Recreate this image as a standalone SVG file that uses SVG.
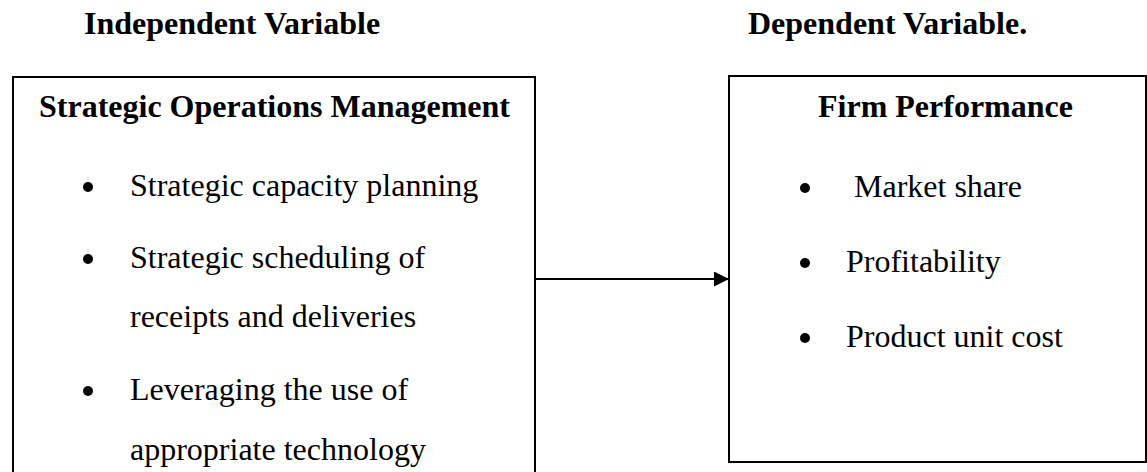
<svg xmlns="http://www.w3.org/2000/svg" width="1147" height="472" viewBox="0 0 1147 472">
  <style>
    text { font-family: "Liberation Serif", "Times New Roman", serif; font-size: 32px; fill: #000; }
    .b { font-weight: bold; }
    .box { fill: #fff; stroke: #000; stroke-width: 2; }
    .dot { fill: #000; }
    .link { stroke: #000; stroke-width: 2; fill: none; }
  </style>
  <defs>
    <marker id="arrow" viewBox="0 0 15 15" refX="15" refY="7.5" markerWidth="15" markerHeight="15" markerUnits="userSpaceOnUse" orient="auto">
      <path d="M0,0 L15,7.5 L0,15 Z" fill="#000"/>
    </marker>
  </defs>
  <rect width="1147" height="472" fill="#fff"/>

  <!-- column headings -->
  <g id="headings">
    <text class="b" x="84" y="34">Independent Variable</text>
    <text class="b" x="748" y="34">Dependent Variable.</text>
  </g>

  <!-- independent variable box -->
  <g id="strategic-operations">
    <rect class="box" x="13" y="77" width="522" height="410"/>
    <text class="b" x="39" y="117">Strategic Operations Management</text>
    <circle class="dot" cx="88" cy="187" r="5"/>
    <text x="130" y="196">Strategic capacity planning</text>
    <circle class="dot" cx="88" cy="259" r="5"/>
    <text x="130" y="268">Strategic scheduling of</text>
    <text x="130" y="327">receipts and deliveries</text>
    <circle class="dot" cx="88" cy="391" r="5"/>
    <text x="130" y="400">Leveraging the use of</text>
    <text x="130" y="460">appropriate technology</text>
  </g>

  <!-- dependent variable box -->
  <g id="firm-performance">
    <rect class="box" x="729" y="76" width="417" height="386"/>
    <text class="b" x="818" y="117">Firm Performance</text>
    <circle class="dot" cx="805" cy="188" r="5"/>
    <text x="854" y="197">Market share</text>
    <circle class="dot" cx="805" cy="263" r="5"/>
    <text x="846" y="272">Profitability</text>
    <circle class="dot" cx="805" cy="338" r="5"/>
    <text x="846" y="347">Product unit cost</text>
  </g>

  <!-- connectors -->
  <g id="connectors">
    <line class="link" x1="535" y1="279" x2="729" y2="279" marker-end="url(#arrow)"/>
  </g>
</svg>
